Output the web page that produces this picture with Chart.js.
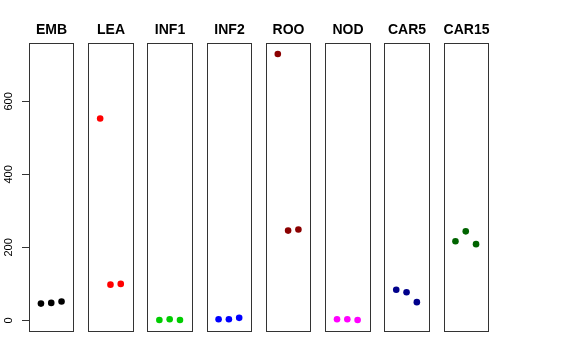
<!DOCTYPE html>
<html>
<head>
<meta charset="utf-8">
<script src="https://cdn.jsdelivr.net/npm/chart.js@4"></script>
<style>
  body { margin: 0; background: #fff; }
  canvas { display: block; }
</style>
</head>
<body>
<canvas id="stripChart" width="576" height="360"></canvas>
<script>
// panels, one per tissue
var panels = ['EMB', 'LEA', 'INF1', 'INF2', 'ROO', 'NOD', 'CAR5', 'CAR15'];
var panelColors = ['#000000', '#FF0000', '#00CD00', '#0000FF', '#8B0000', '#FF00FF', '#00008B', '#006400'];
var reps = [1, 2, 3];
// values
var EMB = [46, 48, 52];
var LEA = [553, 98, 100];
var INF1 = [1, 3, 1];
var INF2 = [3, 3, 7];
var ROO = [730, 246, 249];
var NOD = [3, 3, 1];
var CAR5 = [84, 77, 50];
var CAR15 = [217, 244, 209];
var yTicks = [0, 200, 400, 600];

var allValues = [EMB, LEA, INF1, INF2, ROO, NOD, CAR5, CAR15];

// each panel gets its own x range 0..4 (padded), panels sit side by side
var slot = 5.75;
var padLo = -0.16, padHi = 4.16;

var datasets = [];
for (var i in panels) {
    var pts = [];
    for (var j in reps) {
        pts.push({ x: i * slot + reps[j], y: allValues[i][j] });
    }
    datasets.push({
        label: panels[i],
        data: pts,
        backgroundColor: panelColors[i],
        borderWidth: 0,
        pointRadius: 3.3,
        pointHoverRadius: 3.3
    });
}

var panelPlugin = {
    id: 'panels',
    afterDraw: function (chart) {
        var ctx = chart.ctx;
        var xs = chart.scales.x, ys = chart.scales.y;
        var top = chart.chartArea.top, bottom = chart.chartArea.bottom;
        ctx.save();
        for (var i = 0; i < panels.length; i++) {
            var l = Math.round(xs.getPixelForValue(i * slot + padLo));
            var r = Math.round(xs.getPixelForValue(i * slot + padHi));
            ctx.strokeStyle = '#333';
            ctx.lineWidth = 1;
            ctx.strokeRect(l + 0.5, Math.round(top) + 0.5, r - l, Math.round(bottom - top));
            ctx.fillStyle = '#000';
            ctx.font = 'bold 14px "Liberation Sans", Arial, sans-serif';
            ctx.textAlign = 'center';
            ctx.textBaseline = 'alphabetic';
            ctx.fillText(panels[i], (l + r) / 2 + 0.5, 34);
        }
        // rotated y tick labels
        ctx.font = '11px "Liberation Sans", Arial, sans-serif';
        ctx.fillStyle = '#000';
        ys.ticks.forEach(function (t) {
            var py = ys.getPixelForValue(t.value);
            ctx.save();
            ctx.translate(12, py);
            ctx.rotate(-Math.PI / 2);
            ctx.textAlign = 'center';
            ctx.textBaseline = 'alphabetic';
            ctx.fillText(String(t.value), 0, 0);
            ctx.restore();
        });
        ctx.restore();
    }
};

new Chart(document.getElementById('stripChart'), {
    type: 'scatter',
    data: { datasets: datasets },
    options: {
        responsive: false,
        maintainAspectRatio: false,
        animation: false,
        layout: { padding: { top: 43, bottom: 29, left: 0, right: 88 } },
        plugins: {
            legend: { display: false },
            tooltip: { enabled: false }
        },
        scales: {
            x: {
                type: 'linear',
                display: false,
                min: padLo,
                max: (panels.length - 1) * slot + padHi
            },
            y: {
                type: 'linear',
                min: -29,
                max: 760,
                afterBuildTicks: function (scale) {
                    scale.ticks = yTicks.map(function (v) { return { value: v }; });
                },
                afterFit: function (scale) { scale.width = 29; },
                border: { display: false },
                grid: {
                    drawOnChartArea: false,
                    drawTicks: true,
                    tickLength: 7,
                    color: '#333'
                },
                ticks: { display: false }
            }
        }
    },
    plugins: [panelPlugin]
});
</script>
</body>
</html>
